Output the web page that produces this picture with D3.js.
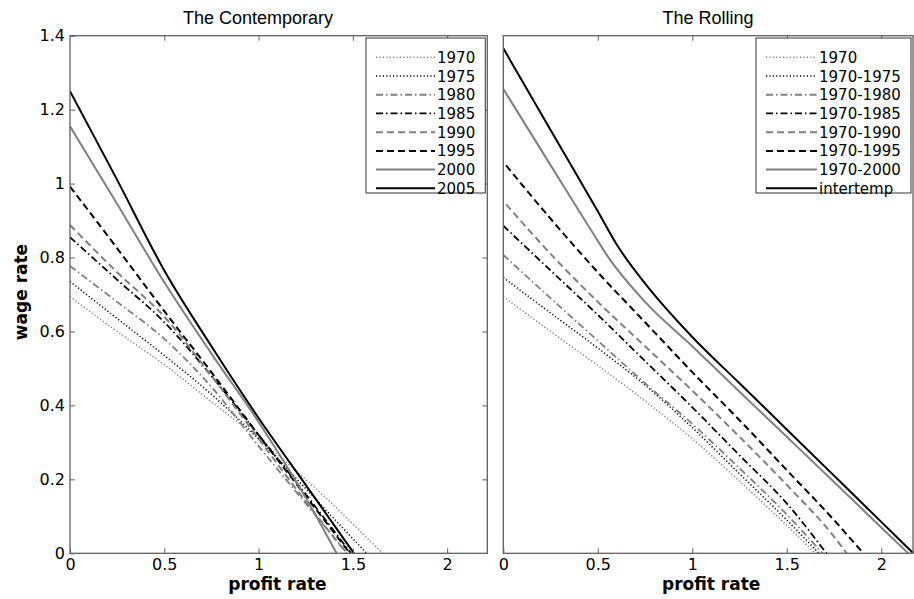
<!DOCTYPE html>
<html>
<head>
<meta charset="utf-8">
<script src="https://cdn.jsdelivr.net/npm/d3@7"></script>
<style>
  body { margin: 0; background: #fff; }
  text { font-family: "DejaVu Sans", sans-serif; }
</style>
</head>
<body>
<div id="chart"></div>
<script>
// ---- data ----
var xTicks = [0, 0.5, 1, 1.5, 2];
var yTicks = [0, 0.2, 0.4, 0.6, 0.8, 1, 1.2, 1.4];

var contemporaryLabels = ["1970", "1975", "1980", "1985", "1990", "1995", "2000", "2005"];
var rollingLabels = ["1970", "1970-1975", "1970-1980", "1970-1985", "1970-1990", "1970-1995", "1970-2000", "intertemp"];

// The Contemporary: [profit rate, wage rate]
var c1970 = [[0, 0.694], [0.25, 0.6], [0.5, 0.51], [0.75, 0.41], [1, 0.31], [1.25, 0.2], [1.658, 0]];
var c1975 = [[0, 0.735], [0.25, 0.635], [0.5, 0.535], [0.75, 0.43], [1, 0.31], [1.25, 0.175], [1.573, 0]];
var c1980 = [[0, 0.777], [0.25, 0.68], [0.5, 0.58], [0.75, 0.45], [1, 0.29], [1.25, 0.135], [1.47, 0]];
var c1985 = [[0, 0.855], [0.25, 0.74], [0.5, 0.625], [0.75, 0.48], [1, 0.32], [1.25, 0.16], [1.49, 0]];
var c1990 = [[0, 0.888], [0.25, 0.76], [0.5, 0.64], [0.75, 0.48], [1, 0.31], [1.25, 0.14], [1.467, 0]];
var c1995 = [[0, 0.992], [0.25, 0.825], [0.5, 0.655], [0.75, 0.49], [1, 0.32], [1.25, 0.155], [1.485, 0]];
var c2000 = [[0, 1.155], [0.25, 0.945], [0.5, 0.733], [0.75, 0.54], [1, 0.355], [1.25, 0.15], [1.414, 0]];
var c2005 = [[0, 1.25], [0.25, 1.01], [0.5, 0.765], [0.75, 0.56], [1, 0.366], [1.25, 0.185], [1.506, 0]];

// The Rolling
var r1970 = [[0, 0.694], [0.25, 0.6], [0.5, 0.508], [0.75, 0.412], [1, 0.31], [1.25, 0.195], [1.5, 0.075], [1.65, 0]];
var r1975 = [[0, 0.746], [0.25, 0.65], [0.5, 0.555], [0.75, 0.455], [1, 0.34], [1.25, 0.215], [1.5, 0.09], [1.67, 0]];
var r1980 = [[0, 0.807], [0.25, 0.69], [0.5, 0.575], [0.75, 0.46], [1, 0.35], [1.25, 0.23], [1.5, 0.105], [1.69, 0]];
var r1985 = [[0, 0.886], [0.25, 0.765], [0.5, 0.645], [0.75, 0.52], [1, 0.395], [1.25, 0.265], [1.5, 0.135], [1.71, 0]];
var r1990 = [[0.015, 0.944], [0.25, 0.81], [0.5, 0.68], [0.75, 0.56], [1, 0.44], [1.25, 0.315], [1.5, 0.185], [1.75, 0.045], [1.817, 0]];
var r1995 = [[0.015, 1.049], [0.25, 0.905], [0.5, 0.76], [0.75, 0.625], [1, 0.49], [1.25, 0.36], [1.5, 0.225], [1.75, 0.09], [1.905, 0]];
var r2000 = [[0, 1.256], [0.25, 1.05], [0.5, 0.845], [0.55, 0.805], [0.75, 0.68], [1, 0.56], [1.25, 0.437], [1.5, 0.315], [1.75, 0.193], [2, 0.07], [2.143, 0]];
var rInter = [[0, 1.366], [0.25, 1.145], [0.5, 0.925], [0.6, 0.835], [0.75, 0.73], [1, 0.585], [1.25, 0.46], [1.5, 0.335], [1.75, 0.21], [2, 0.085], [2.17, 0]];

var contemporarySeries = [c1970, c1975, c1980, c1985, c1990, c1995, c2000, c2005];
var rollingSeries = [r1970, r1975, r1980, r1985, r1990, r1995, r2000, rInter];

// MATLAB-ish line styles, one per series slot
var lineStyles = [
  { color: "#808080", dash: "1.2,2.2", width: 1.5 },
  { color: "#000000", dash: "1.2,2.2", width: 1.5 },
  { color: "#808080", dash: "7,3,1.5,3", width: 1.8 },
  { color: "#000000", dash: "7,3,1.5,3", width: 1.8 },
  { color: "#808080", dash: "7,4", width: 2 },
  { color: "#000000", dash: "7,4", width: 2 },
  { color: "#808080", dash: null, width: 2 },
  { color: "#000000", dash: null, width: 2 }
];

var width = 914, height = 599;
var svg = d3.select("#chart").append("svg")
  .attr("width", width)
  .attr("height", height);

var axisColor = "#606060";
var yTop = 35.7, yBottom = 553.3;
var y = d3.scaleLinear().domain([0, 1.4]).range([yBottom, yTop]);

function drawPanel(opts) {
  var x = d3.scaleLinear().domain([0, opts.xmax]).range([opts.left, opts.right]);

  var clipId = "clip-" + opts.id;
  svg.append("clipPath").attr("id", clipId)
    .append("rect")
    .attr("x", opts.left).attr("y", yTop)
    .attr("width", opts.right - opts.left).attr("height", yBottom - yTop);

  // lines
  var line = d3.line()
    .x(function (d) { return x(d[0]); })
    .y(function (d) { return y(d[1]); })
    .curve(d3.curveMonotoneX);

  svg.append("g").attr("clip-path", "url(#" + clipId + ")")
    .selectAll("path")
    .data(opts.series)
    .enter()
    .append("path")
    .attr("d", function (d) { return line(d); })
    .attr("fill", "none")
    .attr("stroke", function (d, i) { return lineStyles[i].color; })
    .attr("stroke-width", function (d, i) { return lineStyles[i].width; })
    .attr("stroke-dasharray", function (d, i) { return lineStyles[i].dash; });

  // axes with inward ticks
  var bottom = svg.append("g")
    .attr("transform", "translate(0," + yBottom + ")")
    .call(d3.axisBottom(x).tickValues(xTicks).tickSize(-5).tickPadding(5).tickFormat(d3.format("")));
  var top = svg.append("g")
    .attr("transform", "translate(0," + yTop + ")")
    .call(d3.axisTop(x).tickValues(xTicks.filter(function (t) { return t > 0; })).tickSize(-5).tickFormat(""));
  var axes = [bottom, top];

  if (opts.yLabels) {
    axes.push(svg.append("g")
      .attr("transform", "translate(" + opts.left + ",0)")
      .call(d3.axisLeft(y).tickValues(yTicks).tickSize(-5).tickPadding(5).tickFormat(d3.format(""))));
    axes.push(svg.append("g")
      .attr("transform", "translate(" + opts.right + ",0)")
      .call(d3.axisRight(y).tickValues(yTicks.slice(1, -1)).tickSize(-5).tickFormat("")));
  }

  axes.forEach(function (a) {
    a.select(".domain").remove();
    a.selectAll("line").attr("stroke", axisColor);
    a.selectAll("text").attr("fill", "#000").style("font-size", "16px");
  });

  // frame
  svg.append("rect")
    .attr("x", opts.left).attr("y", yTop)
    .attr("width", opts.right - opts.left).attr("height", yBottom - yTop)
    .attr("fill", "none")
    .attr("stroke", axisColor)
    .attr("stroke-width", 1.3);

  // title and x label
  svg.append("text")
    .attr("x", opts.titleX)
    .attr("y", 24)
    .attr("text-anchor", "middle")
    .style("font-family", "'Liberation Sans', Arial, sans-serif")
    .style("font-size", "18px")
    .text(opts.title);

  svg.append("text")
    .attr("x", x(1.1))
    .attr("y", 590)
    .attr("text-anchor", "middle")
    .style("font-size", "17px")
    .style("font-weight", "bold")
    .text("profit rate");

  // legend
  var lg = svg.append("g");
  lg.append("rect")
    .attr("x", opts.legendX).attr("y", 38)
    .attr("width", opts.right - 2 - opts.legendX).attr("height", 155)
    .attr("fill", "#fff")
    .attr("stroke", "#333")
    .attr("stroke-width", 1);

  var rows = lg.selectAll(".row")
    .data(opts.labels)
    .enter()
    .append("g")
    .attr("transform", function (d, i) { return "translate(" + opts.legendX + "," + (57.3 + i * 18.72) + ")"; });

  rows.append("line")
    .attr("x1", 10).attr("x2", 10 + opts.sampleLen)
    .attr("y1", 0).attr("y2", 0)
    .attr("stroke", function (d, i) { return lineStyles[i].color; })
    .attr("stroke-width", function (d, i) { return lineStyles[i].width; })
    .attr("stroke-dasharray", function (d, i) { return lineStyles[i].dash; });

  rows.append("text")
    .attr("x", 12 + opts.sampleLen)
    .attr("y", 5.5)
    .style("font-size", "15px")
    .text(function (d) { return d; });
}

drawPanel({
  id: "left", left: 70, right: 487.3, xmax: 2.213,
  series: contemporarySeries, labels: contemporaryLabels,
  title: "The Contemporary", yLabels: true, titleX: 258,
  legendX: 366, sampleLen: 59
});

drawPanel({
  id: "right", left: 503.3, right: 913, xmax: 2.168,
  series: rollingSeries, labels: rollingLabels,
  title: "The Rolling", yLabels: false, titleX: 708,
  legendX: 756, sampleLen: 51
});

// y axis label
svg.append("text")
  .attr("transform", "translate(27,292) rotate(-90)")
  .attr("text-anchor", "middle")
  .style("font-size", "17px")
  .style("font-weight", "bold")
  .text("wage rate");
</script>
</body>
</html>
